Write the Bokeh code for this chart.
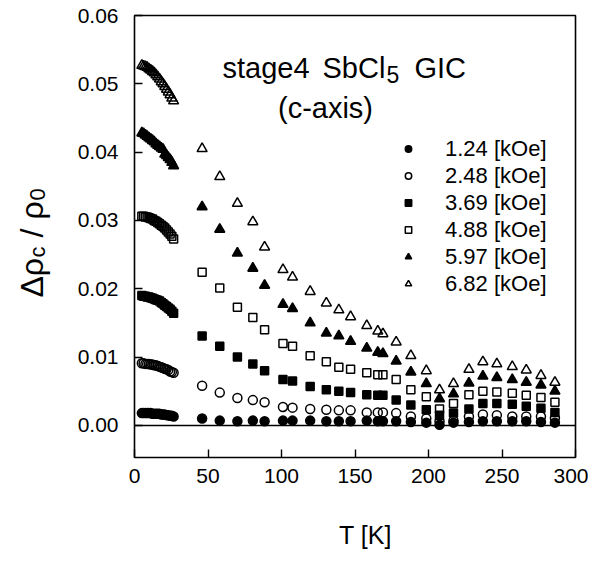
import math
from bokeh.plotting import figure
from bokeh.layouts import row
from bokeh.models import (Label, Span, Legend, LegendItem, Range1d,
                          FixedTicker, ColumnDataSource, CustomJSTickFormatter)
from bokeh.embed import file_html
from bokeh.resources import INLINE

# ---------------- data ----------------
T_low = [5.0, 6.2, 7.4, 8.6, 9.8, 11.0, 12.2, 13.4, 14.6, 15.8, 17.0, 18.2,
         19.4, 20.6, 21.8, 23.0, 24.2, 25.4, 26.6]
T_high = [46, 58, 70, 80.5, 88.5, 101, 107.5, 119.5, 130.5, 139, 147, 158,
          165.5, 169, 178, 188, 198.5, 207.5, 217, 227.5, 237, 246.5, 257,
          266.5, 276.5, 286]

fields = ["1.24 [kOe]", "2.48 [kOe]", "3.69 [kOe]", "4.88 [kOe]",
          "5.97 [kOe]", "6.82 [kOe]"]

low_124 = [0.0018, 0.0018, 0.0018, 0.0018, 0.0018, 0.0018, 0.0017, 0.0017,
           0.0017, 0.0017, 0.0017, 0.0016, 0.0016, 0.0016, 0.0015, 0.0015,
           0.0014, 0.0014, 0.0013]
high_124 = [0.0010, 0.0007, 0.0006, 0.0007, 0.0006, 0.0007, 0.0007, 0.0007,
            0.0006, 0.0006, 0.0006, 0.0007, 0.0006, 0.0006, 0.0006, 0.0005,
            0.0004, 0.0001, 0.0004, 0.0005, 0.0006, 0.0006, 0.0006, 0.0006,
            0.0005, 0.0004]

low_248 = [0.0091, 0.0091, 0.0090, 0.0090, 0.0090, 0.0089, 0.0089, 0.0088,
           0.0088, 0.0087, 0.0086, 0.0085, 0.0084, 0.0083, 0.0082, 0.0081,
           0.0079, 0.0078, 0.0077]
high_248 = [0.0058, 0.0048, 0.0040, 0.0037, 0.0034, 0.0027, 0.0026, 0.0024,
            0.0023, 0.0022, 0.0022, 0.0019, 0.0019, 0.0019, 0.0018, 0.0013,
            0.0010, 0.0006, 0.0007, 0.0013, 0.0016, 0.0015, 0.0013, 0.0013,
            0.0013, 0.0011]

low_369 = [0.0190, 0.0189, 0.0189, 0.0188, 0.0188, 0.0187, 0.0186, 0.0185,
           0.0184, 0.0183, 0.0182, 0.0180, 0.0178, 0.0176, 0.0174, 0.0172,
           0.0170, 0.0167, 0.0164]
high_369 = [0.0131, 0.0116, 0.0100, 0.0090, 0.0080, 0.0067, 0.0065, 0.0057,
            0.0052, 0.0050, 0.0048, 0.0045, 0.0044, 0.0044, 0.0037, 0.0030,
            0.0023, 0.0015, 0.0018, 0.0024, 0.0032, 0.0032, 0.0031, 0.0028,
            0.0025, 0.0019]

low_488 = [0.0306, 0.0306, 0.0305, 0.0305, 0.0304, 0.0303, 0.0302, 0.0300,
           0.0299, 0.0297, 0.0295, 0.0293, 0.0291, 0.0289, 0.0286, 0.0283,
           0.0280, 0.0277, 0.0273]
high_488 = [0.0224, 0.0201, 0.0173, 0.0158, 0.0140, 0.0120, 0.0116, 0.0102,
            0.0093, 0.0085, 0.0082, 0.0077, 0.0074, 0.0074, 0.0067, 0.0052,
            0.0042, 0.0024, 0.0032, 0.0045, 0.0050, 0.0049, 0.0047, 0.0044,
            0.0041, 0.0034]

low_597 = [0.0428, 0.0427, 0.0425, 0.0423, 0.0421, 0.0419, 0.0417, 0.0415,
           0.0412, 0.0410, 0.0408, 0.0406, 0.0404, 0.0397, 0.0395, 0.0392,
           0.0389, 0.0385, 0.0380]
high_597 = [0.0320, 0.0287, 0.0252, 0.0230, 0.0205, 0.0177, 0.0171, 0.0150,
            0.0135, 0.0131, 0.0123, 0.0113, 0.0107, 0.0105, 0.0094, 0.0078,
            0.0061, 0.0039, 0.0046, 0.0062, 0.0072, 0.0070, 0.0067, 0.0063,
            0.0059, 0.0050]

low_682 = [0.0527, 0.0526, 0.0525, 0.0524, 0.0522, 0.0520, 0.0518, 0.0516,
           0.0513, 0.0510, 0.0507, 0.0503, 0.0500, 0.0496, 0.0492, 0.0488,
           0.0484, 0.0479, 0.0475]
high_682 = [0.0405, 0.0364, 0.0325, 0.0298, 0.0261, 0.0228, 0.0217, 0.0196,
            0.0179, 0.0169, 0.0159, 0.0146, 0.0138, 0.0134, 0.0122, 0.0102,
            0.0080, 0.0052, 0.0061, 0.0082, 0.0093, 0.0090, 0.0086, 0.0081,
            0.0073, 0.0063]

x_ticks = [0, 50, 100, 150, 200, 250, 300]
y_ticks = [0.00, 0.01, 0.02, 0.03, 0.04, 0.05, 0.06]

series = [
    (fields[0], low_124, high_124, "circle", True, 9),
    (fields[1], low_248, high_248, "circle", False, 9),
    (fields[2], low_369, high_369, "square", True, 8),
    (fields[3], low_488, high_488, "square", False, 8),
    (fields[4], low_597, high_597, "triangle", True, 10),
    (fields[5], low_682, high_682, "triangle", False, 10),
]

FONT = "Liberation Sans"
LW = 58          # width of the strip holding the y-axis title
TOTAL_H = 559

# ---------------- main plot ----------------
p = figure(frame_width=441, frame_height=442,
           x_range=Range1d(0, 300), y_range=Range1d(-0.0047, 0.06),
           output_backend="svg", toolbar_location=None,
           min_border_left=134 - LW, min_border_right=13,
           min_border_top=15, min_border_bottom=TOTAL_H - 15 - 442,
           background_fill_color="white", border_fill_color="white")
p.grid.visible = False
p.outline_line_color = "black"
p.outline_line_width = 1.6

for ax in (p.xaxis[0], p.yaxis[0]):
    ax.axis_line_color = None
    ax.major_tick_in = 8
    ax.major_tick_out = 0
    ax.minor_tick_line_color = None
    ax.major_tick_line_width = 1.4
    ax.major_tick_line_color = "black"
    ax.major_label_text_font = FONT
    ax.major_label_text_font_size = "21px"
    ax.major_label_text_color = "black"

p.xaxis.ticker = FixedTicker(ticks=x_ticks)
p.yaxis.ticker = FixedTicker(ticks=y_ticks)
p.yaxis.formatter = CustomJSTickFormatter(code="return tick.toFixed(2);")
p.xaxis.major_label_standoff = 11
p.yaxis.major_label_standoff = 16

p.xaxis.axis_label = "\u00a0\u00a0\u00a0T [K]"
p.xaxis.axis_label_text_font = FONT
p.xaxis.axis_label_text_font_size = "25px"
p.xaxis.axis_label_text_font_style = "normal"
p.xaxis.axis_label_text_color = "black"
p.xaxis.axis_label_standoff = 35

p.add_layout(Span(location=0, dimension="width", line_color="black", line_width=1.5))

items = []
for name, lo, hi, marker, filled, size in series:
    src = ColumnDataSource(dict(T=T_low + T_high, v=lo + hi))
    r = p.scatter("T", "v", source=src, marker=marker, size=size,
                  line_color="black", line_width=1.5,
                  fill_color="black" if filled else "white",
                  fill_alpha=1.0 if filled else 0.0)
    items.append(LegendItem(label=name, renderers=[r]))

legend = Legend(items=items, location=(266, 160), orientation="vertical",
                glyph_width=16, glyph_height=27, label_height=27,
                spacing=0, padding=0, margin=0, label_standoff=29,
                border_line_color=None, background_fill_alpha=0,
                label_text_font=FONT, label_text_font_size="22px",
                label_text_color="black", label_text_baseline="middle")
p.add_layout(legend, "center")


def tx(px):
    return (px - 134) / 1.47


def ty(py):
    return (425 - py) / 6830


def lab(fig, text, x, y, size, align="left", angle=0.0):
    fig.add_layout(Label(x=x, y=y, text=text, text_font=FONT,
                         text_font_size=size, text_align=align, angle=angle,
                         text_baseline="alphabetic", text_color="black"))


lab(p, "stage4", tx(222), ty(68), "29px")
lab(p, "SbCl", tx(322), ty(68), "29px")
lab(p, "5", tx(386), ty(74), "23px")
lab(p, "GIC", tx(414), ty(68), "29px")
lab(p, "(c-axis)", tx(325), ty(108), "29px", align="center")

# ---------------- strip with the rotated y-axis title ----------------
q = figure(frame_width=LW, frame_height=TOTAL_H,
           x_range=Range1d(0, LW), y_range=Range1d(TOTAL_H, 0),
           x_axis_type=None, y_axis_type=None,
           output_backend="svg", toolbar_location=None,
           min_border_left=0, min_border_right=0,
           min_border_top=0, min_border_bottom=0,
           background_fill_color="white", border_fill_color="white")
q.grid.visible = False
q.outline_line_color = None

a = math.pi / 2
lab(q, "Δρ", 31, 282, "32px", angle=a)
lab(q, "c", 37, 242, "22px", angle=a)
lab(q, "/", 31, 222, "32px", angle=a)
lab(q, "ρ", 31, 204, "32px", angle=a)
lab(q, "0", 37, 185, "22px", angle=a)

layout = row(q, p, spacing=0)
open("out.html", "w").write(file_html(layout, INLINE))
